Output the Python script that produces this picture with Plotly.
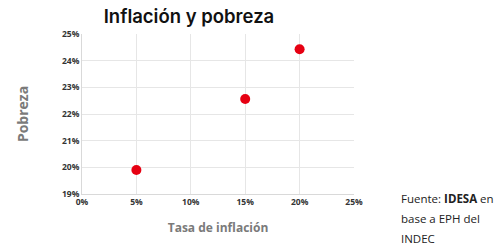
import plotly.graph_objects as go

inflacion = [0.05, 0.15, 0.20]
pobreza = [0.199, 0.2256, 0.2443]
x_ticks = [0, 0.05, 0.10, 0.15, 0.20, 0.25]
y_ticks = [0.19, 0.20, 0.21, 0.22, 0.23, 0.24, 0.25]
fuente_lines = ["Fuente: <b>IDESA</b> en", "base a EPH del", "INDEC"]

fig = go.Figure()
fig.add_trace(go.Scatter(
    x=inflacion, y=pobreza, mode="markers",
    marker=dict(color="#e60012", size=10, line=dict(width=0)),
    showlegend=False,
))

tickfont = dict(family="Open Sans", size=8.5, color="#333333", weight="bold")
fig.update_layout(
    width=500, height=251,
    margin=dict(l=82, r=146, t=34, b=57),
    paper_bgcolor="white", plot_bgcolor="white",
    title=dict(text="Inflación y pobreza", x=0.378, xanchor="center", y=0.935, yanchor="middle",
               font=dict(family="Inter", size=18.5, color="#111111", weight=600)),
    xaxis=dict(range=[0, 0.25], tickvals=x_ticks, tickformat=".0%", tickfont=tickfont,
               showgrid=True, gridcolor="#e6e6e6", gridwidth=1, zeroline=False,
               showline=True, linecolor="#d9d9d9", ticks="", ticklen=0,
               title=dict(text="Tasa de inflación", standoff=17,
                          font=dict(family="Open Sans", size=12, color="#7a7a7a", weight="bold"))),
    yaxis=dict(range=[0.19, 0.25], tickvals=y_ticks, tickformat=".0%", tickfont=tickfont,
               showgrid=True, gridcolor="#e6e6e6", gridwidth=1, zeroline=False,
               showline=True, linecolor="#d9d9d9", ticks="", ticklen=0,
               title=dict(text="Pobreza", standoff=30,
                          font=dict(family="Open Sans", size=14, color="#7a7a7a", weight="bold"))),
)

for i, line in enumerate(fuente_lines):
    fig.add_annotation(
        xref="paper", yref="paper", x=(399 - 82) / 272, y=(194 - (198 + 20 * i)) / 160,
        xanchor="left", yanchor="middle", align="left", showarrow=False,
        text=line, font=dict(family="Open Sans", size=11.5, color="#222222"),
    )

fig.write_html("out.html")
